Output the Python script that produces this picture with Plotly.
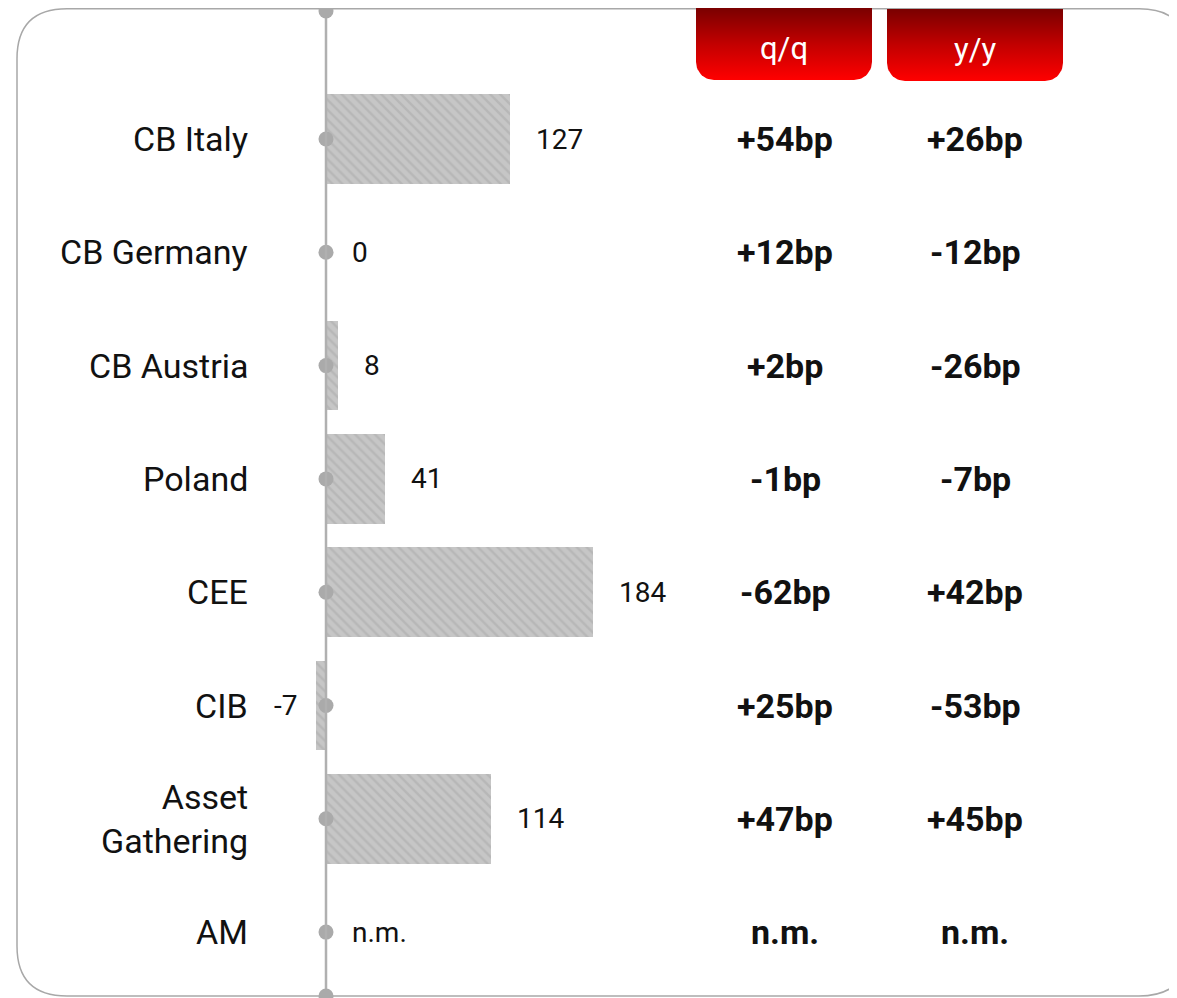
import numpy as np
import plotly.graph_objects as go

# ---------------- data ----------------
categories = ["CB Italy", "CB Germany", "CB Austria", "Poland", "CEE", "CIB",
              "Asset<br>Gathering", "AM"]
values = [127, 0, 8, 41, 184, -7, 114, None]          # None = n.m.
value_labels = ["127", "0", "8", "41", "184", "-7", "114", "n.m."]
qq_labels = ["+54bp", "+12bp", "+2bp", "-1bp", "-62bp", "+25bp", "+47bp", "n.m."]
yy_labels = ["+26bp", "-12bp", "-26bp", "-7bp", "+42bp", "-53bp", "+45bp", "n.m."]
headers = ["q/q", "y/y"]

# ---------------- layout constants (page pixels) ----------------
W, H = 1177, 998       # window size
OFF = 8                # default page body margin
FW, FH = W - OFF, H - OFF
ZERO_PX = 326          # page pixel of value 0
PX_PER_UNIT = 1.45
ROW0_PX = 139          # centre of first row
ROW_STEP = 113.3
FONT = "Roboto"
GREY = "#aaaaaa"

x_range = [(OFF - ZERO_PX) / PX_PER_UNIT, (W - ZERO_PX) / PX_PER_UNIT]
y_range = [(H - ROW0_PX) / ROW_STEP, (OFF - ROW0_PX) / ROW_STEP]
rows = list(range(len(categories)))


def px_paper(px):
    return (px - OFF) / FW


fig = go.Figure()

# bars
fig.add_trace(go.Bar(
    x=[v if v is not None else 0 for v in values], y=rows, orientation="h",
    width=0.79,
    marker=dict(color="#c4c4c4", line=dict(width=0),
                pattern=dict(shape="\\", bgcolor="#c6c6c6", fgcolor="#a8a8a8",
                             size=7, solidity=0.35)),
    hoverinfo="skip", showlegend=False, xaxis="x", yaxis="y"))

# axis dots at each row
fig.add_trace(go.Scatter(
    x=[0] * len(rows), y=rows, mode="markers",
    marker=dict(color=GREY, size=15), hoverinfo="skip", showlegend=False,
    xaxis="x", yaxis="y"))

# vertical axis line + end dots (overlay pixel axes)
fig.add_trace(go.Scatter(
    x=[ZERO_PX, ZERO_PX], y=[11, 998], mode="lines",
    line=dict(color="#b0b0b0", width=2.5), hoverinfo="skip", showlegend=False,
    xaxis="x2", yaxis="y2"))
fig.add_trace(go.Scatter(
    x=[ZERO_PX, ZERO_PX], y=[11, 996], mode="markers",
    marker=dict(color=GREY, size=15), hoverinfo="skip", showlegend=False,
    xaxis="x2", yaxis="y2"))


# header boxes with gradient
def bottom_rounded(x0, x1, y0, y1, r):
    xs, ys = [x0, x1], [y0, y0]
    t = np.linspace(0, np.pi / 2, 16)
    xs += list(x1 - r + r * np.cos(t)); ys += list(y1 - r + r * np.sin(t))
    t = np.linspace(np.pi / 2, np.pi, 16)
    xs += list(x0 + r + r * np.cos(t)); ys += list(y1 - r + r * np.sin(t))
    xs.append(x0); ys.append(y0)
    return xs, ys


boxes = [(696, 872, 8, 80), (887, 1063, 9, 81)]
for (x0, x1, y0, y1), label in zip(boxes, headers):
    bx, by = bottom_rounded(x0, x1, y0, y1, 18)
    fig.add_trace(go.Scatter(
        x=bx, y=by, mode="lines", fill="toself",
        line=dict(color="rgba(0,0,0,0)", width=0),
        fillgradient=dict(type="vertical", start=y0, stop=y1,
                          colorscale=[[0, "#7a0000"], [0.5, "#c20000"], [1, "#ff0000"]]),
        hoverinfo="skip", showlegend=False, xaxis="x2", yaxis="y2"))
    fig.add_annotation(x=(x0 + x1) / 2, y=(y0 + y1) / 2 + 4, xref="x2", yref="y2",
                       text=label, showarrow=False, xanchor="center", yanchor="middle",
                       font=dict(family=FONT, size=31, color="white"))

# rounded border
L, T, R, B, r = 17, 8.8, 1189, 996, 50
path = (f"M {L+r},{T} L {R-r},{T} Q {R},{T} {R},{T+r} L {R},{B-r} Q {R},{B} {R-r},{B} "
        f"L {L+r},{B} Q {L},{B} {L},{B-r} L {L},{T+r} Q {L},{T} {L+r},{T} Z")
fig.add_shape(type="path", path=path, xref="x2", yref="y2",
              line=dict(color="#a8a8a8", width=1.5), layer="below")

# category labels
for i, c in enumerate(categories):
    fig.add_annotation(x=0, y=i, xref="x", yref="y", text=c, showarrow=False,
                       xanchor="right", xshift=-76, align="right",
                       font=dict(family=FONT, size=34, color="#111111"))

# value labels
for i, (v, lab) in enumerate(zip(values, value_labels)):
    vv = 0 if v is None else v
    if vv < 0:
        fig.add_annotation(x=vv, y=i, xref="x", yref="y", text=lab, showarrow=False,
                           xanchor="right", xshift=-17,
                           font=dict(family=FONT, size=28, color="#111111"))
    else:
        fig.add_annotation(x=vv, y=i, xref="x", yref="y", text=lab, showarrow=False,
                           xanchor="left", xshift=24,
                           font=dict(family=FONT, size=28, color="#111111"))

# q/q and y/y columns
for i, (q, yv) in enumerate(zip(qq_labels, yy_labels)):
    fig.add_annotation(x=px_paper(785), y=i, xref="paper", yref="y", text=f"<b>{q}</b>",
                       showarrow=False, xanchor="center",
                       font=dict(family=FONT, size=34, color="#111111"))
    fig.add_annotation(x=px_paper(975), y=i, xref="paper", yref="y", text=f"<b>{yv}</b>",
                       showarrow=False, xanchor="center",
                       font=dict(family=FONT, size=34, color="#111111"))

ax_common = dict(showgrid=False, zeroline=False, showticklabels=False, ticks="",
                 showline=False, fixedrange=True)
fig.update_layout(
    width=FW, height=FH, margin=dict(l=0, r=0, t=0, b=0),
    paper_bgcolor="white", plot_bgcolor="rgba(0,0,0,0)",
    xaxis=dict(range=x_range, domain=[0, 1], **ax_common),
    yaxis=dict(range=y_range, domain=[0, 1], **ax_common),
    xaxis2=dict(range=[OFF, W], overlaying="x", **ax_common),
    yaxis2=dict(range=[H, OFF], overlaying="y", **ax_common),
    bargap=0, showlegend=False,
)

fig.write_html("out.html")
